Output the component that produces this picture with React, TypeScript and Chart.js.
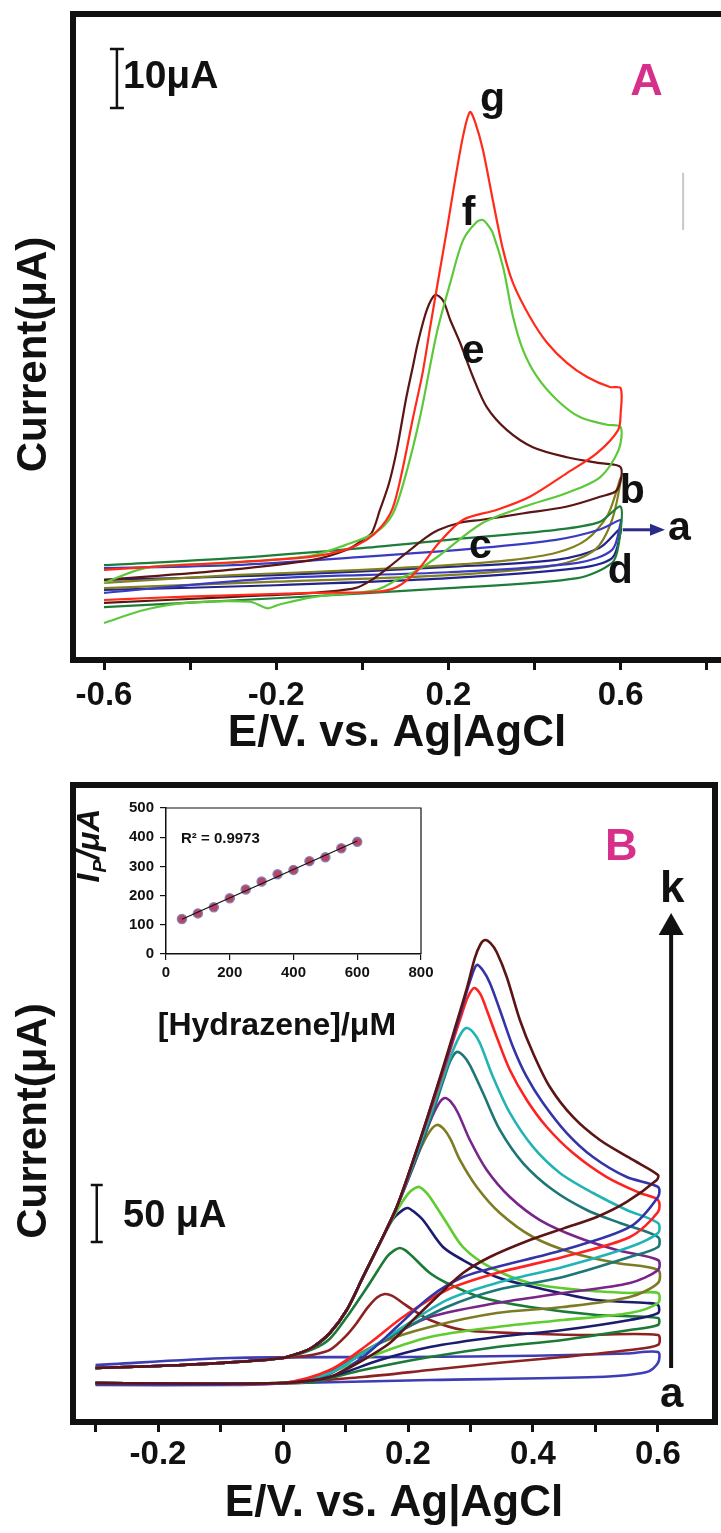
import React, { useEffect, useRef } from 'react';
import { Chart, registerables } from 'chart.js';

Chart.register(...registerables);

const FONT = "'Liberation Sans', Arial, Helvetica, sans-serif";
const INK = '#111111';
const MAGENTA = '#d7308b';

/* ================= Panel A : potential E (V) and current I (µA) ================= */
const A_X_TICKS = [-0.6, -0.4, -0.2, 0, 0.2, 0.4, 0.6, 0.8];
const A_X_TICK_LABELS = ['-0.6', '-0.2', '0.2', '0.6'];
const A_RANGE_E = [-0.672, 0.833];
const A_RANGE_I = [-10.17, 99.32];

const A_NAVY_E = [-0.6, -0.2, 0.2, 0.45, 0.55, 0.6, 0.6, 0.58, 0.5, 0.2, -0.2, -0.6];
const A_NAVY_I = [3.4, 4.2, 5.6, 6.8, 8.8, 12.2, 11.5, 7.1, 5.4, 3.7, 2.5, 1.7];

const A_OLIVE_E = [-0.6, -0.3, 0, 0.2, 0.35, 0.45, 0.52, 0.57, 0.6, 0.58, 0.54, 0.45, 0.2, -0.2, -0.6];
const A_OLIVE_I = [2.9, 4.2, 5.1, 5.9, 6.8, 8.0, 10.2, 14.4, 20.7, 13.6, 8.5, 5.9, 4.2, 3.1, 2.0];

const A_BLUE_E = [-0.6, -0.3, 0, 0.27, 0.45, 0.55, 0.6, 0.6, 0.58, 0.5, 0.2, -0.2, -0.6];
const A_BLUE_I = [5.4, 5.9, 7.3, 8.8, 10.2, 11.9, 13.6, 13.1, 8.5, 6.3, 4.7, 3.7, 1.2];

const A_DKGREEN_E = [-0.6, -0.3, 0, 0.2, 0.45, 0.55, 0.6, 0.595, 0.58, 0.5, 0.2, -0.2, -0.6];
const A_DKGREEN_I = [5.9, 7.1, 8.8, 10.2, 11.9, 13.2, 15.8, 9.3, 6.3, 3.7, 2.0, 0.3, -1.2];

const A_BROWN_E = [-0.6, -0.31, -0.115, -0.036, 0.001, 0.022, 0.041, 0.062, 0.08, 0.101, 0.118, 0.129, 0.15, 0.169, 0.187, 0.204, 0.227, 0.257, 0.289, 0.336, 0.396, 0.475, 0.552, 0.6,
  0.591, 0.552, 0.473, 0.375, 0.278, 0.227, 0.178, 0.15, 0.111, 0.062, 0.022, -0.017, -0.115, -0.31, -0.6];
const A_BROWN_I = [3.4, 5.1, 6.8, 8.5, 10.2, 11.4, 15.3, 19.8, 25.4, 33.9, 39.8, 43.6, 49.2, 51.7, 50.8, 47.5, 43.6, 37.8, 32.7, 28.8, 25.9, 24.2, 23.2, 22.5,
  18.6, 17.5, 15.8, 14.7, 13.6, 13.1, 11.9, 10.7, 8.5, 5.6, 3.4, 2.0, 1.2, 0.5, -0.5];

const A_GREEN_E = [-0.6, -0.5, -0.3, -0.12, -0.04, 0.03, 0.07, 0.1, 0.134, 0.173, 0.204, 0.234, 0.266, 0.28, 0.292, 0.303, 0.327, 0.35, 0.373, 0.406, 0.452, 0.505, 0.568, 0.6,
  0.595, 0.552, 0.473, 0.375, 0.278, 0.178, 0.129, 0.08, 0.032, -0.115, -0.194, -0.221, -0.261, -0.41, -0.507, -0.6];
const A_GREEN_I = [2.9, 5.5, 6.3, 7.5, 9.3, 11.4, 14.5, 21, 31.0, 45.3, 53.7, 61.0, 64.1, 64.4, 63.5, 62.2, 56.4, 48.0, 42.4, 37.8, 33.9, 31.0, 29.7, 29.3,
  25.4, 20.8, 18.1, 15.8, 13.0, 7.5, 5.1, 3.4, 1.7, 0.5, -0.8, -1.4, -0.3, -0.5, -1.7, -3.9];

const A_RED_E = [-0.6, -0.45, -0.3, -0.12, -0.04, 0.01, 0.045, 0.07, 0.09, 0.118, 0.14, 0.157, 0.178, 0.197, 0.215, 0.235, 0.25, 0.262, 0.28, 0.303, 0.327, 0.35, 0.389, 0.429, 0.475, 0.522, 0.575, 0.6,
  0.6, 0.594, 0.545, 0.475, 0.389, 0.313, 0.234, 0.178, 0.129, 0.08, 0.032, -0.115, -0.31, -0.507, -0.6];
const A_RED_I = [5.1, 5.8, 6.4, 7.3, 8.5, 10.2, 12.5, 15.5, 21, 31, 38.5, 46, 55, 63, 71, 79, 82.7, 81, 76.3, 67.8, 59.3, 53.7, 48.0, 43.6, 40.2, 37.8, 36.1, 35.9,
  31.7, 28.8, 24.9, 21.5, 17.5, 15.3, 13.6, 9.7, 5.1, 2.2, 1.4, 1.2, 0.8, 0.3, 0];

/* ================= Panel B : potential E (V) and current I (µA) ================= */
const B_X_TICKS = [-0.3, -0.2, -0.1, 0, 0.1, 0.2, 0.3, 0.4, 0.5, 0.6];
const B_X_TICK_LABELS = ['-0.2', '0', '0.2', '0.4', '0.6'];
const B_RANGE_E = [-0.336, 0.6912];
const B_RANGE_I = [-28.07, 530.7];

const B_BLANK_E = [-0.3, -0.085, 0.2, 0.4, 0.55, 0.6, 0.6, 0.582, 0.502, 0.235, 0.022, -0.085, -0.3];
const B_BLANK_I = [21.9, 28.1, 28.9, 30, 32, 33.3, 23.7, 15.8, 11.4, 8.8, 6.1, 4.4, 4.4];

const B_MAROON_E = [-0.3, -0.2, -0.1, 0, 0.048, 0.075, 0.1, 0.118, 0.135, 0.15, 0.163, 0.175, 0.19, 0.208, 0.235, 0.288, 0.368, 0.475, 0.6, 0.6, 0.555, 0.448, 0.342, 0.235, 0.128, 0.022, 0, -0.1, -0.3];
const B_MAROON_I = [19.3, 21.1, 23.7, 28.1, 31, 35.1, 47, 58.8, 72, 81, 84.2, 82.5, 77, 70.2, 61.4, 52.6, 50, 48.2, 48.2, 39.5, 35.1, 28.9, 23.7, 17.5, 11.4, 7, 6.1, 5.5, 6];

const B_DKGREEN_E = [-0.3, -0.2, -0.1, 0, 0.048, 0.075, 0.102, 0.139, 0.166, 0.178, 0.187, 0.196, 0.208, 0.235, 0.262, 0.315, 0.395, 0.502, 0.6, 0.6, 0.555, 0.448, 0.342, 0.235, 0.128, 0.048, 0, -0.1, -0.3];
const B_DKGREEN_I = [19.3, 21.1, 23.7, 28.1, 36, 45, 64, 93.9, 116.7, 122.5, 124.6, 122.5, 116.7, 102.6, 93.9, 81.6, 72.8, 65.8, 63.2, 57, 52.6, 43.9, 37.7, 28.9, 17.5, 7, 6.1, 5.5, 6];

const B_NAVY_E = [-0.3, -0.2, -0.1, 0, 0.027, 0.048, 0.075, 0.102, 0.128, 0.155, 0.176, 0.192, 0.2, 0.208, 0.224, 0.256, 0.288, 0.342, 0.422, 0.502, 0.582, 0.6, 0.6, 0.555, 0.448, 0.342, 0.235, 0.155, 0.075, 0, -0.1, -0.3];
const B_NAVY_I = [19.3, 21.1, 23.7, 28.1, 32.5, 37.7, 50, 70.2, 99.1, 128.9, 150, 158, 159.6, 157, 149.1, 125.4, 114, 99.1, 87.7, 78.9, 76.3, 74.6, 67.5, 61.4, 52.6, 46.5, 37.7, 26.3, 11.4, 6.1, 5.5, 6];

const B_LTGREEN_E = [-0.3, -0.2, -0.1, 0, 0.027, 0.048, 0.075, 0.102, 0.128, 0.155, 0.182, 0.2, 0.211, 0.218, 0.226, 0.235, 0.262, 0.288, 0.331, 0.395, 0.475, 0.555, 0.6, 0.6, 0.555, 0.448, 0.342, 0.235, 0.155, 0.086, 0.032, 0, -0.1, -0.3];
const B_LTGREEN_I = [19.3, 21.1, 23.7, 28.1, 32.5, 37.7, 50, 70.2, 99.1, 128.9, 157, 172, 177, 178.1, 175, 169.3, 146.5, 125.4, 107.9, 93.9, 87.7, 85.1, 85.1, 76.3, 67.5, 61.4, 55.3, 46.5, 32.5, 17.5, 7, 6.1, 5.5, 6];

const B_OLIVE_E = [-0.3, -0.2, -0.1, 0, 0.027, 0.048, 0.075, 0.102, 0.128, 0.155, 0.182, 0.205, 0.222, 0.235, 0.246, 0.257, 0.268, 0.283, 0.31, 0.347, 0.4, 0.464, 0.534, 0.6, 0.6, 0.555, 0.448, 0.342, 0.235, 0.155, 0.086, 0.032, 0, -0.1, -0.3];
const B_OLIVE_I = [19.3, 21.1, 23.7, 28.1, 32.5, 37.7, 50, 70.2, 99.1, 128.9, 160.5, 192, 214, 227, 232.5, 229, 220, 201.8, 178.1, 155.3, 134.2, 120.2, 111.4, 105.3, 93.9, 81.6, 72.8, 67.5, 55.3, 41.2, 20.2, 7, 6.1, 5.5, 6];

const B_PURPLE_E = [-0.3, -0.2, -0.1, 0, 0.027, 0.048, 0.075, 0.102, 0.128, 0.155, 0.182, 0.21, 0.235, 0.249, 0.259, 0.269, 0.28, 0.299, 0.326, 0.363, 0.411, 0.47, 0.534, 0.6, 0.6, 0.555, 0.448, 0.342, 0.235, 0.171, 0.102, 0.048, 0, -0.1, -0.3];
const B_PURPLE_I = [19.3, 21.1, 23.7, 28.1, 32.5, 37.7, 50, 70.2, 99.1, 128.9, 160.5, 198, 235, 251, 256.1, 252.5, 243, 219.3, 193, 169.3, 149.1, 134.2, 122.8, 114, 105.3, 93.9, 85.1, 76.3, 64, 46.5, 23.7, 8.8, 6.1, 5.5, 6];

const B_TEAL_E = [-0.3, -0.2, -0.1, 0, 0.027, 0.048, 0.075, 0.102, 0.128, 0.155, 0.182, 0.214, 0.24, 0.257, 0.268, 0.278, 0.288, 0.299, 0.32, 0.347, 0.384, 0.432, 0.486, 0.539, 0.6, 0.6, 0.555, 0.448, 0.342, 0.262, 0.182, 0.118, 0.064, 0, -0.1, -0.3];
const B_TEAL_I = [19.3, 21.1, 23.7, 28.1, 32.5, 37.7, 50, 70.2, 99.1, 128.9, 160.5, 205, 244, 272, 289, 296.5, 293.5, 285, 260.5, 228.1, 199.1, 175.4, 157.9, 146.5, 134.2, 125.4, 116.7, 99.1, 87.7, 72.8, 50, 28.9, 11.4, 6.1, 5.5, 6];

const B_CYAN_E = [-0.3, -0.2, -0.1, 0, 0.027, 0.048, 0.075, 0.102, 0.128, 0.155, 0.182, 0.214, 0.24, 0.265, 0.282, 0.293, 0.304, 0.315, 0.336, 0.363, 0.4, 0.443, 0.496, 0.55, 0.6, 0.6, 0.555, 0.448, 0.342, 0.262, 0.192, 0.128, 0.075, 0, -0.1, -0.3];
const B_CYAN_I = [19.3, 21.1, 23.7, 28.1, 32.5, 37.7, 50, 70.2, 99.1, 128.9, 160.5, 208, 248, 288, 310, 317.5, 314, 304.4, 274.6, 243, 213.2, 190.4, 172.8, 157.9, 146.5, 137.7, 125.4, 107.9, 93.9, 78.9, 55.3, 32.5, 14.9, 6.1, 5.5, 6];

const B_RED_E = [-0.3, -0.2, -0.1, 0, 0.027, 0.048, 0.075, 0.102, 0.128, 0.155, 0.182, 0.214, 0.24, 0.265, 0.285, 0.296, 0.306, 0.316, 0.326, 0.342, 0.363, 0.39, 0.422, 0.464, 0.518, 0.571, 0.6, 0.6, 0.555, 0.448, 0.342, 0.262, 0.192, 0.139, 0.075, 0, -0.1, -0.3];
const B_RED_I = [19.3, 21.1, 23.7, 28.1, 32.5, 37.7, 50, 70.2, 99.1, 128.9, 160.5, 210.5, 252, 294, 328, 345, 352.6, 347, 333.3, 309.6, 280.7, 254.4, 230.7, 207.9, 186.8, 172.8, 166.7, 156.1, 134.2, 116.7, 102.6, 87.7, 64, 41.2, 17.5, 6.1, 5.5, 6];

const B_BLUE_E = [-0.3, -0.2, -0.1, 0, 0.027, 0.048, 0.075, 0.102, 0.128, 0.155, 0.182, 0.214, 0.24, 0.267, 0.29, 0.3, 0.31, 0.32, 0.331, 0.347, 0.368, 0.39, 0.416, 0.454, 0.496, 0.55, 0.6, 0.6, 0.555, 0.448, 0.342, 0.288, 0.235, 0.182, 0.128, 0.075, 0, -0.1, -0.3];
const B_BLUE_I = [19.3, 21.1, 23.7, 28.1, 32.5, 37.7, 50, 70.2, 99.1, 128.9, 160.5, 210.5, 254.4, 300, 342, 360, 372.8, 368, 357, 333.3, 300.9, 274.6, 251.8, 225.4, 204.4, 186.8, 178.1, 169.3, 143, 122.8, 107.9, 99.1, 81.6, 55.3, 28.9, 11.4, 6.1, 5.5, 6];

const B_BROWN_E = [-0.3, -0.2, -0.1, 0, 0.027, 0.048, 0.075, 0.102, 0.128, 0.155, 0.182, 0.214, 0.24, 0.267, 0.294, 0.307, 0.316, 0.323, 0.332, 0.342, 0.358, 0.379, 0.4, 0.427, 0.464, 0.507, 0.56, 0.6, 0.598, 0.55, 0.502, 0.45, 0.395, 0.331, 0.288, 0.246, 0.208, 0.171, 0.128, 0.075, 0.022, 0, -0.1, -0.3];
const B_BROWN_I = [19.3, 21.1, 23.7, 28.1, 32.5, 37.7, 50, 70.2, 99.1, 128.9, 160.5, 210.5, 254.4, 302.6, 352, 379, 391, 394.7, 392, 384, 362.3, 324.6, 295.6, 265.8, 239.5, 219.3, 201.8, 188.6, 184.2, 165, 151.8, 142, 131.6, 116.7, 102.6, 81.6, 61.4, 41.2, 26.3, 11.4, 7, 6.1, 5.5, 6];

/* ================= Inset : peak current vs hydrazine concentration ================= */
const INSET_CONC = [50, 100, 150, 200, 250, 300, 350, 400, 450, 500, 550, 600];
const INSET_IP = [120, 139, 160, 191, 221, 248, 273, 288, 318, 331, 362, 384];
const INSET_FIT_CONC = [50, 600];
const INSET_FIT_IP = [119, 387];
const INSET_R2 = 'R² = 0.9973';

/* ================= styles / tables built from the arrays ================= */
type Curve = { name: string; E: number[]; I: number[]; color: string };

const A_CURVES: Curve[] = [
  { name: 'a', E: A_NAVY_E, I: A_NAVY_I, color: '#23238c' },
  { name: 'b', E: A_OLIVE_E, I: A_OLIVE_I, color: '#80801e' },
  { name: 'c', E: A_BLUE_E, I: A_BLUE_I, color: '#3a3ac2' },
  { name: 'd', E: A_DKGREEN_E, I: A_DKGREEN_I, color: '#1f7d3a' },
  { name: 'e', E: A_BROWN_E, I: A_BROWN_I, color: '#5a1515' },
  { name: 'f', E: A_GREEN_E, I: A_GREEN_I, color: '#5cc83a' },
  { name: 'g', E: A_RED_E, I: A_RED_I, color: '#ff2a1a' },
];

const B_CURVES: Curve[] = [
  { name: 'blank', E: B_BLANK_E, I: B_BLANK_I, color: '#3d3db5' },
  { name: 'maroon', E: B_MAROON_E, I: B_MAROON_I, color: '#8c2222' },
  { name: 'dkgreen', E: B_DKGREEN_E, I: B_DKGREEN_I, color: '#1c7a37' },
  { name: 'navy', E: B_NAVY_E, I: B_NAVY_I, color: '#1c1c6e' },
  { name: 'ltgreen', E: B_LTGREEN_E, I: B_LTGREEN_I, color: '#5fcc2f' },
  { name: 'olive', E: B_OLIVE_E, I: B_OLIVE_I, color: '#7c7c24' },
  { name: 'purple', E: B_PURPLE_E, I: B_PURPLE_I, color: '#78258a' },
  { name: 'teal', E: B_TEAL_E, I: B_TEAL_I, color: '#1c7676' },
  { name: 'cyan', E: B_CYAN_E, I: B_CYAN_I, color: '#22b4b4' },
  { name: 'red', E: B_RED_E, I: B_RED_I, color: '#ff2222' },
  { name: 'blue', E: B_BLUE_E, I: B_BLUE_I, color: '#3434a8' },
  { name: 'brown', E: B_BROWN_E, I: B_BROWN_I, color: '#5c1414' },
];

type XY = [number, number];
type Overlay = {
  sides: string[];
  frameWidth: number;
  texts: { text: string; at: XY; size: number; color?: string; align?: CanvasTextAlign; baseline?: CanvasTextBaseline }[];
  bars: { x: number; from: number; to: number; cap: number; width: number }[];
  arrows: { from: XY; to: XY; width: number; head: number; half: number; color: string }[];
  lines: { from: XY; to: XY; width: number; color: string }[];
};

const A_OVERLAY: Overlay = {
  sides: ['top', 'left', 'bottom'],
  frameWidth: 6,
  texts: [
    { text: '10μA', at: [-0.556, 88.6], size: 39, baseline: 'middle' },
    { text: 'A', at: [0.622, 85.6], size: 45, color: MAGENTA },
    { text: 'g', at: [0.273, 82.9], size: 41 },
    { text: 'f', at: [0.231, 63.6], size: 41 },
    { text: 'e', at: [0.231, 40.2], size: 41 },
    { text: 'b', at: [0.598, 16.4], size: 41 },
    { text: 'a', at: [0.71, 10.2], size: 41 },
    { text: 'c', at: [0.248, 7.1], size: 41 },
    { text: 'd', at: [0.57, 2.9], size: 41 },
  ],
  bars: [{ x: -0.57, from: 93.4, to: 83.4, cap: 14, width: 2.5 }],
  arrows: [{ from: [0.605, 11.9], to: [0.703, 11.9], width: 3, head: 15, half: 6, color: '#2a2a88' }],
  lines: [{ from: [0.745, 72.4], to: [0.745, 62.7], width: 2, color: '#c8c8c8' }],
};

const B_OVERLAY: Overlay = {
  sides: ['top', 'left', 'bottom', 'right'],
  frameWidth: 6,
  texts: [
    { text: 'B', at: [0.515, 464.9], size: 45, color: MAGENTA },
    { text: 'k', at: [0.603, 428.1], size: 44 },
    { text: 'a', at: [0.603, -14.9], size: 42 },
    { text: '50 μA', at: [-0.256, 151.8], size: 38, baseline: 'middle' },
  ],
  bars: [{ x: -0.298, from: 179.8, to: 129.8, cap: 12, width: 2.5 }],
  arrows: [{ from: [0.621, 19.3], to: [0.621, 418.4], width: 4, head: 22, half: 12.5, color: INK }],
  lines: [],
};

function overlayPlugin(id: string, o: Overlay) {
  return {
    id,
    afterDraw(chart: any) {
      const { ctx, chartArea: ca, scales } = chart;
      const xs = scales.x;
      const ys = scales.y;
      const px = (p: XY): XY => [xs.getPixelForValue(p[0]), ys.getPixelForValue(p[1])];
      ctx.save();
      const w = o.frameWidth;
      const h = w / 2;
      ctx.strokeStyle = INK;
      ctx.lineWidth = w;
      ctx.lineCap = 'butt';
      ctx.beginPath();
      for (const s of o.sides) {
        if (s === 'top') { ctx.moveTo(ca.left - h, ca.top); ctx.lineTo(ca.right + h, ca.top); }
        if (s === 'bottom') { ctx.moveTo(ca.left - h, ca.bottom); ctx.lineTo(ca.right + h, ca.bottom); }
        if (s === 'left') { ctx.moveTo(ca.left, ca.top - h); ctx.lineTo(ca.left, ca.bottom + h); }
        if (s === 'right') { ctx.moveTo(ca.right, ca.top - h); ctx.lineTo(ca.right, ca.bottom + h); }
      }
      ctx.stroke();

      for (const l of o.lines) {
        const [x0, y0] = px(l.from);
        const [x1, y1] = px(l.to);
        ctx.strokeStyle = l.color;
        ctx.lineWidth = l.width;
        ctx.beginPath(); ctx.moveTo(x0, y0); ctx.lineTo(x1, y1); ctx.stroke();
      }

      for (const b of o.bars) {
        const x = xs.getPixelForValue(b.x);
        const y0 = ys.getPixelForValue(b.from);
        const y1 = ys.getPixelForValue(b.to);
        ctx.strokeStyle = INK;
        ctx.lineWidth = b.width;
        ctx.beginPath();
        ctx.moveTo(x, y0); ctx.lineTo(x, y1);
        ctx.moveTo(x - b.cap / 2, y0); ctx.lineTo(x + b.cap / 2, y0);
        ctx.moveTo(x - b.cap / 2, y1); ctx.lineTo(x + b.cap / 2, y1);
        ctx.stroke();
      }

      for (const a of o.arrows) {
        const [x0, y0] = px(a.from);
        const [x1, y1] = px(a.to);
        const len = Math.hypot(x1 - x0, y1 - y0);
        const ux = (x1 - x0) / len;
        const uy = (y1 - y0) / len;
        const bx = x1 - ux * a.head;
        const by = y1 - uy * a.head;
        ctx.strokeStyle = a.color;
        ctx.fillStyle = a.color;
        ctx.lineWidth = a.width;
        ctx.beginPath(); ctx.moveTo(x0, y0); ctx.lineTo(bx, by); ctx.stroke();
        ctx.beginPath();
        ctx.moveTo(x1, y1);
        ctx.lineTo(bx - uy * a.half, by + ux * a.half);
        ctx.lineTo(bx + uy * a.half, by - ux * a.half);
        ctx.closePath();
        ctx.fill();
      }

      for (const t of o.texts) {
        const [x, y] = px(t.at);
        ctx.font = `bold ${t.size}px ${FONT}`;
        ctx.fillStyle = t.color || INK;
        ctx.textAlign = t.align || 'left';
        ctx.textBaseline = t.baseline || 'alphabetic';
        ctx.fillText(t.text, x, y);
      }
      ctx.restore();
    },
  };
}

const fmt1 = (v: number) => String(Math.round(v * 10) / 10);

function mainConfig(
  curves: Curve[], rangeE: number[], rangeI: number[], ticks: number[], labels: string[],
  pad: { top: number; right: number }, xHeight: number, tickPad: number, titlePad: number,
  lineWidth: number, overlay: any,
): any {
  return {
    type: 'scatter',
    data: {
      datasets: curves.map((c, i) => ({
        label: c.name,
        data: c.E.map((e, k) => ({ x: e, y: c.I[k] })),
        showLine: true,
        borderColor: c.color,
        backgroundColor: c.color,
        borderWidth: lineWidth,
        pointRadius: 0,
        tension: 0.3,
        fill: false,
        order: curves.length - i,
      })),
    },
    options: {
      animation: false,
      responsive: false,
      devicePixelRatio: 1,
      layout: { padding: { top: pad.top, right: pad.right, left: 0, bottom: 0 } },
      plugins: { legend: { display: false }, tooltip: { enabled: false } },
      scales: {
        x: {
          type: 'linear',
          min: rangeE[0],
          max: rangeE[1],
          afterBuildTicks: (s: any) => { s.ticks = ticks.map((v) => ({ value: v })); },
          afterFit: (s: any) => { s.height = xHeight; },
          grid: { display: true, drawOnChartArea: false, drawTicks: true, tickLength: 10, lineWidth: 3, color: INK },
          border: { display: false },
          ticks: {
            autoSkip: false, maxRotation: 0, minRotation: 0, padding: tickPad, color: INK,
            font: { family: FONT, size: 33, weight: 'bold' },
            callback: (v: any) => { const s = fmt1(Number(v)); return labels.includes(s) ? s : ''; },
          },
          title: {
            display: true, text: 'E/V. vs. Ag|AgCl', color: INK,
            font: { family: FONT, size: 44, weight: 'bold' },
            padding: { top: 0, bottom: titlePad },
          },
        },
        y: {
          type: 'linear',
          min: rangeI[0],
          max: rangeI[1],
          afterFit: (s: any) => { s.width = 73; },
          grid: { display: false },
          border: { display: false },
          ticks: { display: false },
          title: {
            display: true, text: 'Current(μA)   ', color: INK,
            font: { family: FONT, size: 42, weight: 'bold' },
            padding: { top: 8.8, bottom: 0 },
          },
        },
      },
    },
    plugins: [overlay],
  };
}

const insetPlugin = {
  id: 'insetDecor',
  afterDraw(chart: any) {
    const { ctx, chartArea: ca, scales } = chart;
    const xs = scales.x;
    const ys = scales.y;
    ctx.save();
    ctx.strokeStyle = INK;
    ctx.lineWidth = 1.2;
    ctx.beginPath();
    ctx.moveTo(ca.left, ca.top); ctx.lineTo(ca.right, ca.top); ctx.lineTo(ca.right, ca.bottom);
    ctx.stroke();

    ctx.fillStyle = INK;
    ctx.font = `bold 15px ${FONT}`;
    ctx.textAlign = 'left';
    ctx.textBaseline = 'middle';
    ctx.fillText(INSET_R2, xs.getPixelForValue(47), ys.getPixelForValue(394));

    ctx.font = `bold 32px ${FONT}`;
    ctx.textAlign = 'center';
    ctx.textBaseline = 'middle';
    ctx.fillText('[Hydrazene]/μM', xs.getPixelForValue(348), ys.getPixelForValue(-247));

    // rotated y title I_P/µA
    const big = `italic bold 32px ${FONT}`;
    const small = `italic bold 19px ${FONT}`;
    ctx.translate(xs.getPixelForValue(-245), ys.getPixelForValue(370));
    ctx.rotate(-Math.PI / 2);
    ctx.textAlign = 'left';
    ctx.textBaseline = 'alphabetic';
    ctx.font = big;
    const wI = ctx.measureText('I').width;
    const wRest = ctx.measureText('/μA').width;
    ctx.font = small;
    const wP = ctx.measureText('P').width;
    let x0 = -(wI + wP + wRest) / 2;
    ctx.font = big; ctx.fillText('I', x0, 11); x0 += wI + 1;
    ctx.font = small; ctx.fillText('P', x0, 18); x0 += wP;
    ctx.font = big; ctx.fillText('/μA', x0, 11);
    ctx.restore();
  },
};

function insetConfig(): any {
  const tickFont = { family: FONT, size: 15, weight: 'bold' };
  return {
    type: 'scatter',
    data: {
      datasets: [
        {
          label: 'fit',
          data: INSET_FIT_CONC.map((c, k) => ({ x: c, y: INSET_FIT_IP[k] })),
          showLine: true, borderColor: INK, borderWidth: 1.2, pointRadius: 0, fill: false,
        },
        {
          label: 'Ip',
          data: INSET_CONC.map((c, k) => ({ x: c, y: INSET_IP[k] })),
          showLine: false, pointRadius: 4.6, backgroundColor: '#b84660', borderColor: '#8286c6', borderWidth: 1.3,
        },
      ],
    },
    options: {
      animation: false,
      responsive: false,
      devicePixelRatio: 1,
      layout: { padding: { top: 18, right: 39, left: 0, bottom: 0 } },
      plugins: { legend: { display: false }, tooltip: { enabled: false } },
      scales: {
        x: {
          type: 'linear', min: 0, max: 800,
          afterFit: (s: any) => { s.height = 96; },
          grid: { display: true, drawOnChartArea: false, drawTicks: true, tickLength: 6, color: INK, lineWidth: 1.2 },
          border: { display: true, color: INK, width: 1.5 },
          ticks: { stepSize: 200, padding: 4, color: INK, font: tickFont, maxRotation: 0 },
        },
        y: {
          type: 'linear', min: 0, max: 500,
          afterFit: (s: any) => { s.width = 106; },
          grid: { display: true, drawOnChartArea: false, drawTicks: true, tickLength: 6, color: INK, lineWidth: 1.2 },
          border: { display: true, color: INK, width: 1.5 },
          ticks: { stepSize: 100, padding: 6, color: INK, font: tickFont },
        },
      },
    },
    plugins: [insetPlugin],
  };
}

function ChartCanvas(props: { make: () => any; left: number; top: number; width: number; height: number }) {
  const ref = useRef<HTMLCanvasElement>(null);
  useEffect(() => {
    const chart = new Chart(ref.current as HTMLCanvasElement, props.make());
    return () => chart.destroy();
  }, []);
  return (
    <canvas
      ref={ref}
      width={props.width}
      height={props.height}
      style={{ position: 'absolute', left: props.left, top: props.top, width: props.width, height: props.height }}
    />
  );
}

export default function App() {
  return (
    <div style={{ position: 'absolute', left: 0, top: 0, width: 721, height: 1533, background: '#ffffff', overflow: 'hidden' }}>
      <ChartCanvas
        left={0} top={0} width={721} height={770}
        make={() => mainConfig(A_CURVES, A_RANGE_E, A_RANGE_I, A_X_TICKS, A_X_TICK_LABELS,
          { top: 14, right: 0 }, 110, 6, 9.6, 2.2, overlayPlugin('panelA', A_OVERLAY))}
      />
      <ChartCanvas
        left={0} top={770} width={721} height={763}
        make={() => mainConfig(B_CURVES, B_RANGE_E, B_RANGE_I, B_X_TICKS, B_X_TICK_LABELS,
          { top: 15, right: 6 }, 111, 3, 2.6, 2.6, overlayPlugin('panelB', B_OVERLAY))}
      />
      <ChartCanvas left={60} top={790} width={400} height={260} make={insetConfig} />
    </div>
  );
}
